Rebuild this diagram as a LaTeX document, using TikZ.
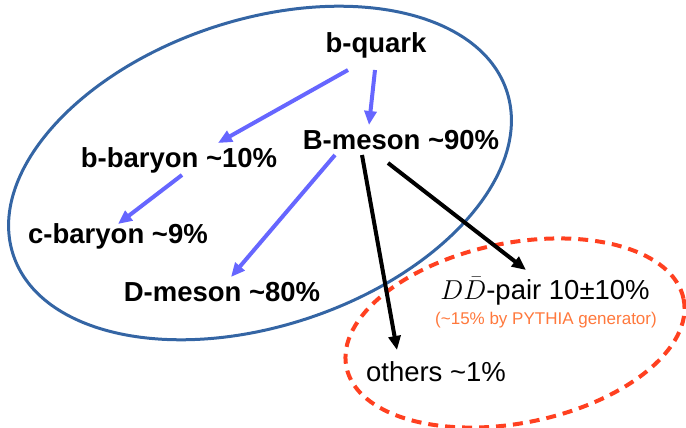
\documentclass[tikz,border=0pt]{standalone}
\usepackage[no-math]{fontspec}
\setmainfont{Liberation Sans}
\usetikzlibrary{arrows.meta,calc}

\definecolor{ellblue}{RGB}{52,101,164}
\definecolor{arrblue}{RGB}{102,102,255}
\definecolor{dashred}{RGB}{255,64,32}
\definecolor{noteorange}{RGB}{255,120,60}

\tikzset{
	hadron/.style={inner sep=0pt, font=\fontsize{27.5}{30}\selectfont\bfseries},
	product/.style={inner sep=0pt, font=\fontsize{27.5}{30}\selectfont},
	decay/.style={line width=4pt, arrblue, -{Triangle[length=14pt,width=12pt]}},
	bdecay/.style={line width=4pt, black, -{Triangle[length=14pt,width=12pt]}},
}

\begin{document}
\begin{tikzpicture}[x=1pt, y=-1pt]
		\useasboundingbox (0,0) rectangle (686,428);

		% the two regions
		\draw[line width=3pt, ellblue, rotate around={18.4:(260,173)}] (260,173) ellipse [x radius=260, y radius=153];
		\draw[line width=4pt, dashred, dash pattern=on 10pt off 7pt, rotate around={11.4:(515,333)}] (515,333) ellipse [x radius=172, y radius=90];

		\node[hadron] (bquark) at (376,45) {b-quark};
		\node[hadron] (bmeson) at (401,140) {B-meson \textasciitilde90\%};
		\node[hadron] (bbaryon) at (179,160) {b-baryon \textasciitilde10\%};
		\node[hadron] (cbaryon) at (118,236) {c-baryon \textasciitilde9\%};
		\node[hadron] (dmeson) at (222,292) {D-meson \textasciitilde80\%};

		\node[product] (ddpair) at (545,291) {\scalebox{1.1}{$D\bar{D}$}-pair 10±10\%};
		\node[inner sep=0pt, noteorange, font=\fontsize{17}{20}\selectfont] (pythia) at (546,320) {(\textasciitilde15\% by PYTHIA generator)};
		\node[product] (others) at (436,372) {others \textasciitilde1\%};

		\draw[decay] ($(bquark)+(-28,25)$) -- ($(bbaryon)+(39,-17)$);
		\draw[decay] ($(bquark)+(-1,25)$) -- ($(bmeson)+(-32,-15)$);
		\draw[decay] ($(bbaryon)+(3,15)$) -- ($(cbaryon)+(0,-12)$);
		\draw[decay] ($(bmeson)+(-66,15)$) -- ($(dmeson)+(9,-15)$);

		\draw[bdecay] ($(bmeson)+(-39,15)$) -- ($(others)+(-39,-22)$);
		\draw[bdecay] ($(bmeson)+(-13,23)$) -- ($(ddpair)+(-19,-21)$);
	\end{tikzpicture}
\end{document}
